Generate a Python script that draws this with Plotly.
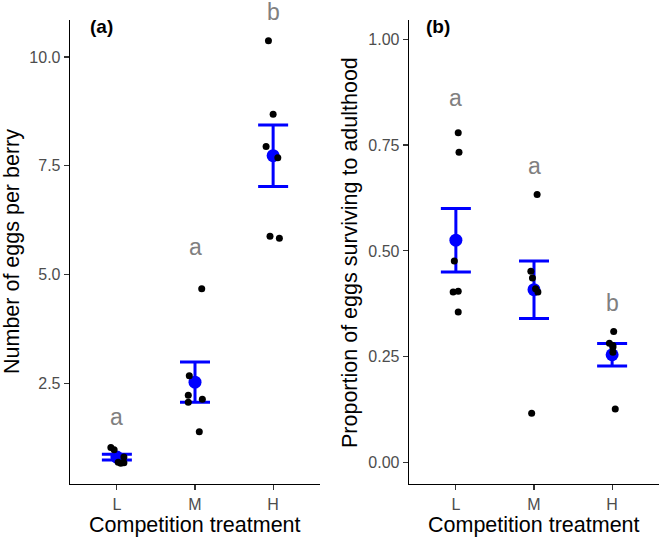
import numpy as np
import plotly.graph_objects as go

# ---------------- data ----------------
categories = ["L", "M", "H"]

eggs_L = [1.02, 0.97, 0.80, 0.68, 0.67, 0.66]
eggs_M = [4.67, 2.67, 2.22, 2.06, 2.13, 1.38]
eggs_H = [10.37, 8.68, 7.94, 7.68, 5.88, 5.83]
eggs_jit_L = [-0.077, -0.035, 0.09, 0.017, 0.09, 0.05]
eggs_jit_M = [0.086, -0.073, -0.086, -0.086, 0.094, 0.055]
eggs_jit_H = [-0.06, 0.0, -0.09, 0.06, -0.04, 0.08]

surv_L = [0.779, 0.733, 0.476, 0.403, 0.405, 0.356]
surv_M = [0.633, 0.452, 0.436, 0.411, 0.403, 0.117]
surv_H = [0.310, 0.282, 0.273, 0.261, 0.127, 0.277]
surv_jit_L = [0.03, 0.04, -0.02, -0.035, 0.03, 0.03]
surv_jit_M = [0.04, -0.04, -0.02, 0.02, 0.05, -0.03]
surv_jit_H = [0.02, -0.035, 0.01, 0.01, 0.04, 0.01]

letters_eggs = ["a", "a", "b"]
letter_y_eggs = [1.73, 5.64, 11.04]
letters_surv = ["a", "a", "b"]
letter_y_surv = [0.86, 0.70, 0.378]

eggs_ticks = [2.5, 5.0, 7.5, 10.0]
eggs_ticktext = ["2.5", "5.0", "7.5", "10.0"]
surv_ticks = [0.0, 0.25, 0.5, 0.75, 1.0]
surv_ticktext = ["0.00", "0.25", "0.50", "0.75", "1.00"]

# ---------------- layout geometry ----------------
W, H = 661, 538
FONT = "Liberation Sans, Arial, Helvetica, sans-serif"


def px(x):
    return x / W


def py(y):
    return 1 - y / H


def mean_se(v):
    a = np.asarray(v, dtype=float)
    return a.mean(), a.std(ddof=1) / np.sqrt(len(a))


fig = go.Figure()


def add_panel(groups, jits, xa, ya):
    means, ses = [], []
    for g in groups:
        m, s = mean_se(g)
        means.append(m)
        ses.append(s)
    pos = [1, 2, 3]
    fig.add_trace(go.Scatter(
        x=pos, y=means, mode="markers", xaxis=xa, yaxis=ya,
        marker=dict(color="#0000FF", size=13),
        error_y=dict(type="data", array=ses, visible=True,
                     color="#0000FF", thickness=3, width=15),
        showlegend=False, hoverinfo="skip"))
    xs, ys = [], []
    for i, (g, j) in enumerate(zip(groups, jits)):
        xs += [pos[i] + d for d in j]
        ys += list(g)
    fig.add_trace(go.Scatter(
        x=xs, y=ys, mode="markers", xaxis=xa, yaxis=ya,
        marker=dict(color="black", size=7),
        showlegend=False, hoverinfo="skip"))


add_panel([eggs_L, eggs_M, eggs_H], [eggs_jit_L, eggs_jit_M, eggs_jit_H], "x", "y")
add_panel([surv_L, surv_M, surv_H], [surv_jit_L, surv_jit_M, surv_jit_H], "x2", "y2")

axis_common = dict(
    showgrid=False, zeroline=False, showline=True, linecolor="black",
    linewidth=1.3, ticks="outside", ticklen=5, tickwidth=1.1,
    tickcolor="#333333", tickfont=dict(family=FONT, size=16, color="#4D4D4D"),
    automargin=False,
)

ydom = [py(484), py(20)]
xdom_a = [px(70), px(320)]
xdom_b = [px(409), px(659)]
xrng = [0.4, 3.6]
yrng_a = [0.18, 10.85]
yrng_b = [-0.05, 1.045]

fig.update_layout(
    width=W, height=H,
    margin=dict(l=0, r=0, t=0, b=0),
    paper_bgcolor="white", plot_bgcolor="white",
    xaxis=dict(domain=xdom_a, range=xrng, anchor="y",
               tickvals=[1, 2, 3], ticktext=categories, **axis_common),
    yaxis=dict(domain=ydom, range=yrng_a, anchor="x",
               tickvals=eggs_ticks, ticktext=eggs_ticktext, **axis_common),
    xaxis2=dict(domain=xdom_b, range=xrng, anchor="y2",
                tickvals=[1, 2, 3], ticktext=categories, **axis_common),
    yaxis2=dict(domain=ydom, range=yrng_b, anchor="x2",
                tickvals=surv_ticks, ticktext=surv_ticktext, **axis_common),
)


def to_paper(v, rng, dom):
    # map a data value through the axis scale to paper coordinates
    return dom[0] + (v - rng[0]) / (rng[1] - rng[0]) * (dom[1] - dom[0])


ann = []
for i, (t, yv) in enumerate(zip(letters_eggs, letter_y_eggs)):
    ann.append(dict(x=to_paper(i + 1, xrng, xdom_a), y=to_paper(yv, yrng_a, ydom),
                    xref="paper", yref="paper", text=t, showarrow=False,
                    font=dict(family=FONT, size=23, color="#808080"),
                    xanchor="center", yanchor="middle"))
for i, (t, yv) in enumerate(zip(letters_surv, letter_y_surv)):
    ann.append(dict(x=to_paper(i + 1, xrng, xdom_b), y=to_paper(yv, yrng_b, ydom),
                    xref="paper", yref="paper", text=t, showarrow=False,
                    font=dict(family=FONT, size=23, color="#808080"),
                    xanchor="center", yanchor="middle"))

title_font = dict(family=FONT, size=21.5, color="black")
ann += [
    dict(x=px(12), y=py(252), xref="paper", yref="paper", text="Number of eggs per berry",
         textangle=-90, showarrow=False, font=title_font, xanchor="center", yanchor="middle"),
    dict(x=px(350), y=py(252), xref="paper", yref="paper",
         text="Proportion of eggs surviving to adulthood",
         textangle=-90, showarrow=False, font=title_font, xanchor="center", yanchor="middle"),
    dict(x=px(195), y=py(525), xref="paper", yref="paper", text="Competition treatment",
         showarrow=False, font=title_font, xanchor="center", yanchor="middle"),
    dict(x=px(534), y=py(525), xref="paper", yref="paper", text="Competition treatment",
         showarrow=False, font=title_font, xanchor="center", yanchor="middle"),
    dict(x=px(101.5), y=py(26), xref="paper", yref="paper", text="<b>(a)</b>",
         showarrow=False, font=dict(family=FONT, size=19, color="black"),
         xanchor="center", yanchor="middle"),
    dict(x=px(438), y=py(26.5), xref="paper", yref="paper", text="<b>(b)</b>",
         showarrow=False, font=dict(family=FONT, size=19, color="black"),
         xanchor="center", yanchor="middle"),
]
fig.update_layout(annotations=ann)

# remove the default 8px page margin so the figure fills the window exactly
fig.write_html("out.html",
               config={"displayModeBar": False, "staticPlot": True},
               post_script="document.body.style.margin='0';"
                           "document.body.style.overflow='hidden';")
